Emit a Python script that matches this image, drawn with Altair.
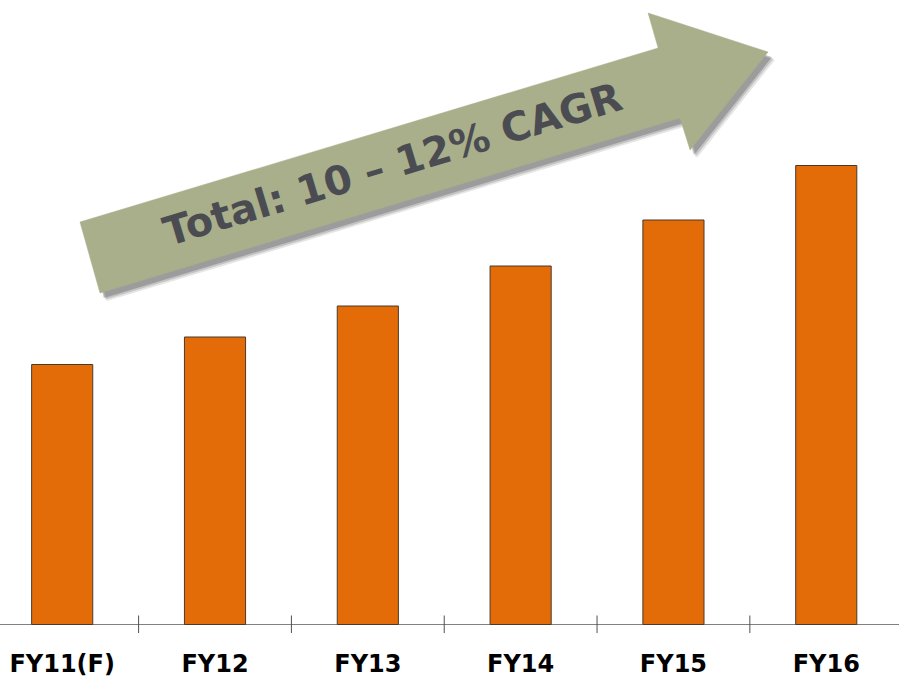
import altair as alt
import pandas as pd

# ---- data ----
categories = ["FY11(F)", "FY12", "FY13", "FY14", "FY15", "FY16"]
values = [260, 287.5, 318.5, 358.5, 404.5, 459]   # bar heights (relative units)
positions = [0, 1, 2, 3, 4, 5]
tick_positions = [0.5, 1.5, 2.5, 3.5, 4.5]

# arrow outline in data units (category index, value)
arrow_x = [0.1165, 3.900, 3.834, 4.619, 4.109, 4.043, 0.2474, 0.1165]
arrow_y = [402.5, 576.5, 611.5, 572.5, 474.5, 506.5, 331.5, 402.5]
arrow_label = "Total: 10 – 12% CAGR"
label_x = [2.165]
label_y = [458.5]

X_DOMAIN = [-0.407, 5.476]
Y_DOMAIN = [-54.5, 624.5]
BAR_HALF = 0.2

bars = pd.DataFrame({"cat": categories, "pos": positions, "val": values})
bars["x1"] = bars["pos"] - BAR_HALF
bars["x2"] = bars["pos"] + BAR_HALF
bars["zero"] = 0
bars["lab_y"] = -47.5

ticks = pd.DataFrame({"t": tick_positions, "y1": -8.5, "y2": 9})

arrow = pd.DataFrame({"x": arrow_x, "y": arrow_y, "o": list(range(len(arrow_x)))})
shadows = []
for k, (dx, dy, op) in enumerate([(0.045, -8, 0.10), (0.035, -6.5, 0.15), (0.025, -5, 0.2)]):
    s = pd.DataFrame({"x": [v + dx for v in arrow_x], "y": [v + dy for v in arrow_y],
                      "o": list(range(len(arrow_x)))})
    shadows.append((s, op))

xs = alt.Scale(domain=X_DOMAIN, nice=False, zero=False)
ys = alt.Scale(domain=Y_DOMAIN, nice=False, zero=False)

base_x = lambda f: alt.X(f, type="quantitative", scale=xs, axis=None)
base_y = lambda f: alt.Y(f, type="quantitative", scale=ys, axis=None)

layers = []

# baseline
axis_line = alt.Chart(pd.DataFrame({"a": [X_DOMAIN[0]], "b": [X_DOMAIN[1]], "y": [0]})).mark_rule(
    color="#808080", strokeWidth=1
).encode(x=base_x("a"), x2="b", y=base_y("y"))
layers.append(axis_line)

tick_layer = alt.Chart(ticks).mark_rule(color="#505050", strokeWidth=1).encode(
    x=base_x("t"), y=base_y("y1"), y2="y2"
)
layers.append(tick_layer)

bar_layer = alt.Chart(bars).mark_rect(color="#E36C09", stroke="#4a3a2a", strokeWidth=1).encode(
    x=base_x("x1"), x2="x2", y=base_y("zero"), y2="val"
)
layers.append(bar_layer)

for s, op in shadows:
    layers.append(
        alt.Chart(s).mark_line(fill="#000000", fillOpacity=op, strokeOpacity=0, interpolate="linear").encode(
            x=base_x("x"), y=base_y("y"), order="o:Q"
        )
    )

arrow_layer = alt.Chart(arrow).mark_line(fill="#A9AF8B", stroke="#A9AF8B", strokeWidth=0.5,
                                         interpolate="linear").encode(
    x=base_x("x"), y=base_y("y"), order="o:Q"
)
layers.append(arrow_layer)

arrow_text = alt.Chart(pd.DataFrame({"x": label_x, "y": label_y, "t": [arrow_label]})).mark_text(
    font="DejaVu Sans", fontWeight="bold", fontSize=40, color="#4A4C52", angle=343.25,
    align="center", baseline="middle"
).encode(x=base_x("x"), y=base_y("y"), text="t:N")
layers.append(arrow_text)

cat_text = alt.Chart(bars).mark_text(
    font="DejaVu Sans", fontWeight="bold", fontSize=24, color="#000000",
    align="center", baseline="alphabetic"
).encode(x=base_x("pos"), y=base_y("lab_y"), text="cat:N")
layers.append(cat_text)

chart = alt.layer(*layers).properties(
    width=899, height=679, padding=0, background="#ffffff",
    autosize=alt.AutoSizeParams(type="none")
).configure_view(strokeWidth=0, stroke="transparent")

chart.save("out.html", embed_options={"renderer": "svg", "actions": False})
